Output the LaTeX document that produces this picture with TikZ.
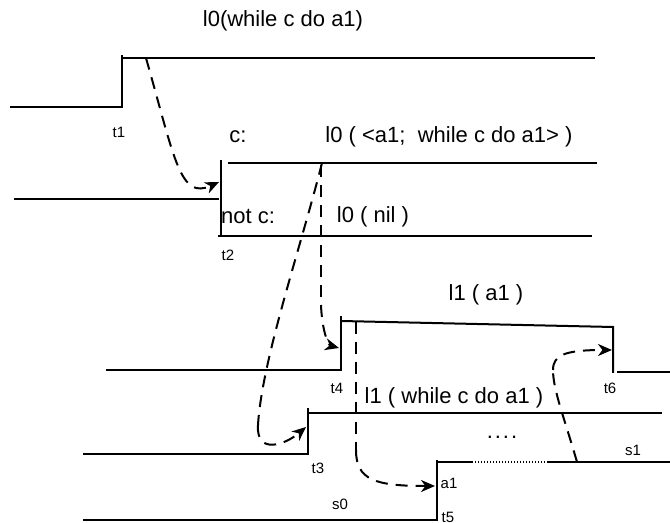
\documentclass[tikz,border=0pt]{standalone}
\usepackage{fontspec}
\setmainfont{Liberation Sans}
\usetikzlibrary{arrows.meta}
\begin{document}
\begin{tikzpicture}[x=0.5pt,y=-0.5pt,
  sig/.style={line width=1pt},
  flow/.style={line width=1pt, dash pattern=on 6pt off 4pt, -{Stealth[length=7pt,width=6pt,inset=2.2pt]}},
  flowplain/.style={line width=1pt, dash pattern=on 6pt off 4pt},
  big/.style={font=\fontsize{11}{13}\selectfont, inner sep=0pt},
  small/.style={font=\fontsize{7.5}{9}\selectfont, inner sep=0pt}]
\useasboundingbox (0,0) rectangle (670,523);

% signal 1
\coordinate (s1a) at (10,107); \coordinate (s1b) at (122,107);
\coordinate (s1c) at (122,55); \coordinate (s1d) at (122,58); \coordinate (s1e) at (595,58);
\draw[sig] (s1a) -- (s1b) -- (s1c);
\draw[sig] (s1d) -- (s1e);

% signal 2
\coordinate (s2a) at (14,199); \coordinate (s2b) at (219,199);
\coordinate (s2c) at (221,160); \coordinate (s2d) at (221,237);
\coordinate (s2e) at (228,163); \coordinate (s2f) at (597,163);
\coordinate (s2g) at (218,236); \coordinate (s2h) at (592,236);
\draw[sig] (s2a) -- (s2b);
\draw[sig] (s2c) -- (s2d);
\draw[sig] (s2e) -- (s2f);
\draw[sig] (s2g) -- (s2h);

% signal t4 / t6
\coordinate (s4a) at (106,370); \coordinate (s4b) at (341,370);
\coordinate (s4c) at (341,316); \coordinate (s4d) at (341,321);
\coordinate (s4e) at (613,327); \coordinate (s4f) at (613,373);
\coordinate (s4g) at (617,372); \coordinate (s4h) at (670,372);
\draw[sig] (s4a) -- (s4b) -- (s4c);
\draw[sig] (s4d) -- (s4e) -- (s4f);
\draw[sig] (s4g) -- (s4h);

% signal t3
\coordinate (s3a) at (83,454); \coordinate (s3b) at (308,454);
\coordinate (s3c) at (308,408); \coordinate (s3d) at (308,413); \coordinate (s3e) at (662,413);
\draw[sig] (s3a) -- (s3b) -- (s3c);
\draw[sig] (s3d) -- (s3e);

% signal s0 / s1
\coordinate (s5a) at (83,520); \coordinate (s5b) at (437,520);
\coordinate (s5c) at (437,460); \coordinate (s5d) at (437,462); \coordinate (s5e) at (670,462);
\coordinate (dta) at (472,462); \coordinate (dtb) at (548,462);
\draw[sig] (s5a) -- (s5b) -- (s5c);
\draw[sig] (s5d) -- (s5e);
\draw[white, line width=1.2pt] (dta) -- (dtb);
\draw[line width=0.7pt, dash pattern=on 0.6pt off 0.9pt] (dta) -- (dtb);

% dashed flows
\coordinate (fA0) at (146,58); \coordinate (fA1) at (219,182);
\draw[flow] (fA0) .. controls (175,160) and (180,200) .. (fA1);

\coordinate (fB0) at (322,163); \coordinate (fBm) at (258,425); \coordinate (fB1) at (306,427);
\draw[flowplain] (fB0) .. controls (300,250) and (262,360) .. (fBm);
\draw[flow] (fBm) .. controls (256,455) and (285,445) .. (fB1);

\coordinate (fC0) at (321,165); \coordinate (fCm) at (321,305); \coordinate (fC1) at (339,348);
\draw[flowplain] (fC0) -- (fCm);
\draw[flow] (fCm) .. controls (322,330) and (328,345) .. (fC1);

\coordinate (fD0) at (356,322); \coordinate (fDm) at (356,450); \coordinate (fD1) at (435,486);
\draw[flowplain] (fD0) -- (fDm);
\draw[flow] (fDm) .. controls (356,480) and (375,486) .. (fD1);

\coordinate (fE0) at (577,462); \coordinate (fEm) at (553,370); \coordinate (fE1) at (612,350);
\draw[flowplain] (fE0) .. controls (565,420) and (553,390) .. (fEm);
\draw[flow] (fEm) .. controls (553,355) and (565,350) .. (fE1);

% labels
\node[big] (lt) at (283,21) {l0(while c do a1)};
\node[big] (lc) at (238,137) {c:};
\node[big] (lcw) at (449,137) {l0 ( <a1;\ \ while c do a1> )};
\node[big] (lnc) at (248,217) {not c:};
\node[big] (lnil) at (373,217) {l0 ( nil )};
\node[big] (la1) at (486,295) {l1 ( a1 )};
\node[big] (lw1) at (454,398) {l1 ( while c do a1 )};
\node[big] (ldots) at (502,437) {.\hspace{1pt}.\hspace{1pt}.\hspace{1pt}.};

\node[small] (t1) at (119,132) {t1};
\node[small] (t2) at (228,255) {t2};
\node[small] (t4) at (337,388) {t4};
\node[small] (t3) at (318,468) {t3};
\node[small] (t5) at (448,517) {t5};
\node[small] (t6) at (610,388) {t6};
\node[small] (ls0) at (340,504) {s0};
\node[small] (ls1) at (633,450) {s1};
\node[small] (la) at (449,483) {a1};
\end{tikzpicture}
\end{document}
